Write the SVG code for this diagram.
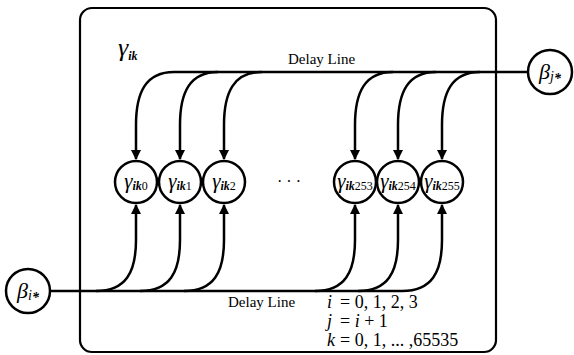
<svg xmlns="http://www.w3.org/2000/svg" width="574" height="355" viewBox="0 0 574 355">
<style>
.ln{fill:none;stroke:#000;stroke-width:2.5}
.nd{fill:#fff;stroke:#000;stroke-width:2.5}
.t{font-family:"Liberation Serif",serif;fill:#000}
.g{font-style:italic}
.sub{font-size:12px;font-style:italic;font-weight:bold}
.num{font-size:12px}
</style>
<defs>
<marker id="ah" viewBox="0 0 10 10" refX="9" refY="5" markerWidth="4" markerHeight="4.4" orient="auto" markerUnits="strokeWidth">
<path d="M0,0 L10,5 L0,10 z" fill="#000"/>
</marker>
</defs>
<rect x="80" y="8" width="416" height="344" rx="12" ry="12" fill="none" stroke="#000" stroke-width="2.2"/>
<text class="t" x="118" y="56" font-size="26"><tspan class="g">γ</tspan><tspan class="sub" font-size="14" dy="4">ik</tspan></text>
<g id="connectors">
<path class="ln" d="M174 72 L528 72"/>
<path class="ln" d="M50 291 L402 291"/>
<path class="ln" marker-end="url(#ah)" d="M174 72 C146 72 136 92 136 125 L136 159"/>
<path class="ln" marker-end="url(#ah)" d="M218 72 C190 72 180 92 180 125 L180 159"/>
<path class="ln" marker-end="url(#ah)" d="M262 72 C234 72 224 92 224 125 L224 159"/>
<path class="ln" marker-end="url(#ah)" d="M393 72 C365 72 355 92 355 125 L355 159"/>
<path class="ln" marker-end="url(#ah)" d="M436 72 C408 72 398 92 398 125 L398 159"/>
<path class="ln" marker-end="url(#ah)" d="M480 72 C452 72 442 92 442 125 L442 159"/>
<path class="ln" marker-end="url(#ah)" d="M96 291 C126 291 136 272 136 240 L136 205"/>
<path class="ln" marker-end="url(#ah)" d="M140 291 C170 291 180 272 180 240 L180 205"/>
<path class="ln" marker-end="url(#ah)" d="M184 291 C214 291 224 272 224 240 L224 205"/>
<path class="ln" marker-end="url(#ah)" d="M315 291 C345 291 355 272 355 240 L355 205"/>
<path class="ln" marker-end="url(#ah)" d="M358 291 C388 291 398 272 398 240 L398 205"/>
<path class="ln" marker-end="url(#ah)" d="M402 291 C432 291 442 272 442 240 L442 205"/>
</g>
<text class="t" x="288" y="64" font-size="15">Delay Line</text>
<text class="t" x="228" y="307" font-size="15">Delay Line</text>
<g id="n0"><circle class="nd" cx="136" cy="182" r="21"/><text class="t" x="136" y="188" font-size="21" text-anchor="middle"><tspan class="g">γ</tspan><tspan class="sub" dy="2">ik</tspan><tspan class="num">0</tspan></text></g>
<g id="n1"><circle class="nd" cx="180" cy="182" r="21"/><text class="t" x="180" y="188" font-size="21" text-anchor="middle"><tspan class="g">γ</tspan><tspan class="sub" dy="2">ik</tspan><tspan class="num">1</tspan></text></g>
<g id="n2"><circle class="nd" cx="224" cy="182" r="21"/><text class="t" x="224" y="188" font-size="21" text-anchor="middle"><tspan class="g">γ</tspan><tspan class="sub" dy="2">ik</tspan><tspan class="num">2</tspan></text></g>
<g id="n253"><circle class="nd" cx="355" cy="182" r="21"/><text class="t" x="355" y="188" font-size="21" text-anchor="middle"><tspan class="g">γ</tspan><tspan class="sub" dy="2">ik</tspan><tspan class="num">253</tspan></text></g>
<g id="n254"><circle class="nd" cx="398" cy="182" r="21"/><text class="t" x="398" y="188" font-size="21" text-anchor="middle"><tspan class="g">γ</tspan><tspan class="sub" dy="2">ik</tspan><tspan class="num">254</tspan></text></g>
<g id="n255"><circle class="nd" cx="442" cy="182" r="21"/><text class="t" x="442" y="188" font-size="21" text-anchor="middle"><tspan class="g">γ</tspan><tspan class="sub" dy="2">ik</tspan><tspan class="num">255</tspan></text></g>
<text class="t" x="289" y="187" font-size="16" text-anchor="middle">·   ·   ·</text>
<g id="betaJ"><circle class="nd" cx="550" cy="72" r="22"/><text class="t" x="550" y="79" font-size="22" font-style="italic" text-anchor="middle">β<tspan font-size="14" dy="2">j</tspan><tspan font-size="14" font-weight="bold" dy="2">*</tspan></text></g>
<g id="betaI"><circle class="nd" cx="28" cy="291" r="22"/><text class="t" x="28" y="298" font-size="22" font-style="italic" text-anchor="middle">β<tspan font-size="14" dy="2">i</tspan><tspan font-size="14" font-weight="bold" dy="2">*</tspan></text></g>
<text class="t" x="327" y="308" font-size="18"><tspan font-style="italic">i</tspan> <tspan x="340">= 0, 1, 2, 3</tspan></text>
<text class="t" x="327" y="327" font-size="18"><tspan font-style="italic">j</tspan> <tspan x="340">= </tspan><tspan font-style="italic">i</tspan> + 1</text>
<text class="t" x="327" y="346" font-size="18"><tspan font-style="italic">k</tspan> <tspan x="340">= 0, 1, ... ,65535</tspan></text>
</svg>
